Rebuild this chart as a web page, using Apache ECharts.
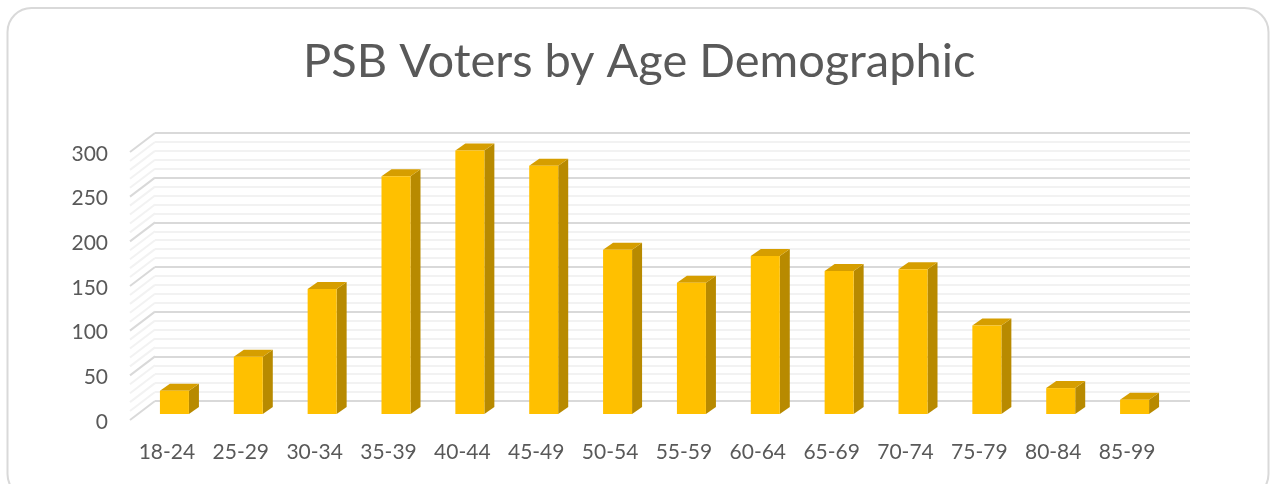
<!DOCTYPE html>
<html>
<head>
<meta charset="utf-8">
<style>
html, body { margin: 0; padding: 0; background: #fff; }
#chart { width: 1270px; height: 484px; }
</style>
</head>
<body>
<div id="chart"></div>
<script src="https://cdn.jsdelivr.net/npm/echarts@6/dist/echarts.min.js"></script>
<script>
const titleText = 'PSB Voters by Age Demographic'
const categories = ['18-24', '25-29', '30-34', '35-39', '40-44', '45-49', '50-54', '55-59', '60-64', '65-69', '70-74', '75-79', '80-84', '85-99']
const voters = [26, 64, 140, 266, 295, 278, 184, 147, 177, 160, 162, 99, 29, 16]
const wallTicks = [0, 10, 20, 30, 40, 50, 60, 70, 80, 90, 100, 110, 120, 130, 140, 150, 160, 170, 180, 190, 200, 210, 220, 230, 240, 250, 260, 270, 280, 290, 300]

const textColor = '#595959'
const fontName = 'Lato, "Open Sans", sans-serif'

// 假3D：柱子相对前平面的偏移和厚度
const barWidth = 29
const barShiftX = 7.5
const barShiftY = -6
const barDepthX = 10
const barDepthY = -7
// 侧墙从前平面到后墙的偏移
const wallDepthX = 25
const wallDepthY = -19

const renderBar = (params, api) => {
    let top = api.coord([api.value(0), api.value(1)])
    let base = api.coord([api.value(0), 0])
    let x0 = top[0] + barShiftX - barWidth / 2
    let x1 = x0 + barWidth
    let y0 = top[1] + barShiftY
    let y1 = base[1] + barShiftY
    return {
        type: 'group',
        children: [
            {
                type: 'polygon',
                shape: { points: [[x1, y0], [x1 + barDepthX, y0 + barDepthY], [x1 + barDepthX, y1 + barDepthY], [x1, y1]] },
                style: { fill: '#B88A00' },
            },
            {
                type: 'polygon',
                shape: { points: [[x0, y0], [x0 + barDepthX, y0 + barDepthY], [x1 + barDepthX, y0 + barDepthY], [x1, y0]] },
                style: { fill: '#D69E00' },
            },
            {
                type: 'rect',
                shape: { x: x0, y: y0, width: barWidth, height: y1 - y0 },
                style: { fill: '#FFC000' },
            },
        ],
    }
}

const renderWallLine = (params, api) => {
    let v = api.value(0)
    let p = api.coord([0, v])
    let x = params.coordSys.x
    return {
        type: 'line',
        shape: { x1: x, y1: p[1], x2: x + wallDepthX, y2: p[1] + wallDepthY },
        style: { stroke: v % 50 === 0 ? '#D9D9D9' : '#F2F2F2', lineWidth: 2 },
    }
}

const option = {
    animation: false,
    backgroundColor: '#fff',
    title: {
        text: titleText,
        left: 298,
        top: 33,
        textStyle: { color: textColor, fontFamily: fontName, fontSize: 47, fontWeight: 400 },
    },
    graphic: [
        {
            type: 'rect',
            silent: true,
            shape: { x: 7.5, y: 8, width: 1261, height: 490, r: 24 },
            style: { fill: 'none', stroke: '#D9D9D9', lineWidth: 2 },
        },
    ],
    grid: [
        // 前平面：柱子和x轴文字
        { left: 130, width: 1034, top: 152, height: 268 },
        // 后墙：网格线
        { left: 155, width: 1035, top: 133, height: 268 },
        // y轴文字比前平面低一点
        { left: 130, width: 1034, top: 154, height: 268 },
    ],
    xAxis: [
        {
            type: 'category',
            gridIndex: 0,
            data: categories,
            axisLine: { show: false },
            axisTick: { show: false },
            axisLabel: { color: textColor, fontFamily: fontName, fontSize: 21, margin: 22 },
        },
        {
            type: 'category',
            gridIndex: 1,
            data: categories,
            show: false,
        },
        {
            type: 'category',
            gridIndex: 2,
            data: categories,
            show: false,
        },
    ],
    yAxis: [
        {
            type: 'value',
            gridIndex: 0,
            min: 0,
            max: 300,
            interval: 50,
            axisLine: { show: false },
            axisTick: { show: false },
            axisLabel: { show: false },
            splitLine: { show: false },
        },
        {
            type: 'value',
            gridIndex: 1,
            min: 0,
            max: 300,
            interval: 50,
            axisLine: { show: false },
            axisTick: { show: false },
            axisLabel: { show: false },
            minorTick: { show: false, splitNumber: 5 },
            minorSplitLine: { show: true, lineStyle: { color: '#F2F2F2', width: 2 } },
            splitLine: { show: true, lineStyle: { color: '#D9D9D9', width: 2 } },
        },
        {
            type: 'value',
            gridIndex: 2,
            min: 0,
            max: 300,
            interval: 50,
            axisLine: { show: false },
            axisTick: { show: false },
            splitLine: { show: false },
            axisLabel: { color: textColor, fontFamily: fontName, fontSize: 21, margin: 22 },
        },
    ],
    series: [
        {
            type: 'custom',
            name: 'wall',
            xAxisIndex: 0,
            yAxisIndex: 0,
            clip: false,
            silent: true,
            renderItem: renderWallLine,
            encode: { y: 0 },
            data: wallTicks.map((v) => [v]),
            z: 1,
        },
        {
            type: 'custom',
            name: 'Voters',
            xAxisIndex: 0,
            yAxisIndex: 0,
            clip: false,
            renderItem: renderBar,
            encode: { x: 0, y: 1 },
            data: voters.map((v, i) => [i, v]),
            z: 3,
        },
    ],
}

const myChart = echarts.init(document.getElementById('chart'), null, { renderer: 'canvas' })
myChart.setOption(option)
window.addEventListener('resize', myChart.resize)
</script>
</body>
</html>
